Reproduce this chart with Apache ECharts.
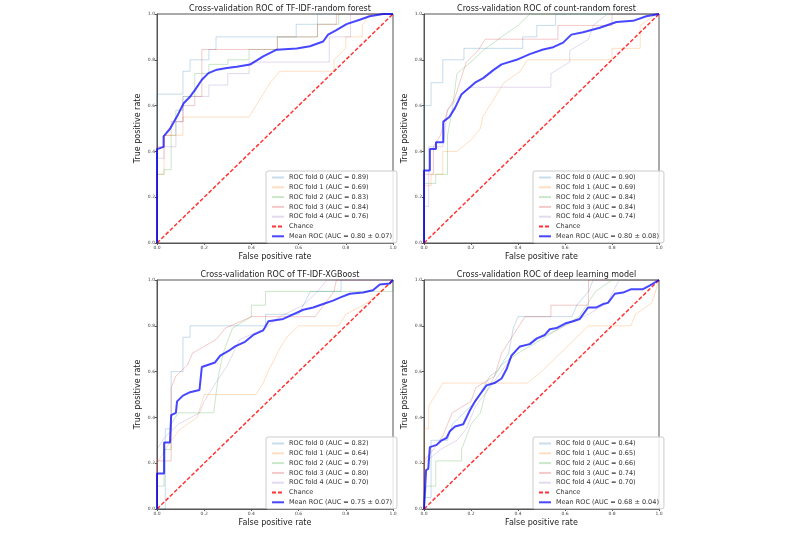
<!DOCTYPE html>
<html>
<head>
<meta charset="utf-8">
<script src="https://cdn.jsdelivr.net/npm/echarts@6/dist/echarts.min.js"></script>
<style>html,body{margin:0;padding:0;background:#fff}#c{width:800px;height:533px}</style>
</head>
<body>
<div id="c"></div>
<script>
// ---------- DATA ----------
const titles = [
  'Cross-validation ROC of TF-IDF-random forest',
  'Cross-validation ROC of count-random forest',
  'Cross-validation ROC of TF-IDF-XGBoost',
  'Cross-validation ROC of deep learning model'
];
const foldAUC_tfidfRF = ['0.89', '0.69', '0.83', '0.84', '0.76'];
const foldAUC_countRF = ['0.90', '0.69', '0.84', '0.84', '0.74'];
const foldAUC_tfidfXGB = ['0.82', '0.64', '0.79', '0.80', '0.70'];
const foldAUC_deep = ['0.64', '0.65', '0.66', '0.74', '0.70'];
const meanAUC = ['0.80 ± 0.07', '0.80 ± 0.08', '0.75 ± 0.07', '0.68 ± 0.04'];
const chanceLine = [[0, 0], [1, 1]];

// TF-IDF random forest
const tfidfRF_f0 = [[0,0],[0,0.65],[0.11,0.65],[0.11,0.75],[0.14,0.75],[0.14,0.8],[0.22,0.8],[0.22,0.845],[0.25,0.845],[0.25,0.9],[0.59,0.9],[0.59,0.955],[0.68,0.955],[0.68,1],[1,1]];
const tfidfRF_f1 = [[0,0],[0,0.3],[0.03,0.3],[0.03,0.47],[0.11,0.47],[0.11,0.55],[0.39,0.55],[0.42,0.6],[0.45,0.65],[0.48,0.7],[0.52,0.75],[0.75,0.75],[0.75,0.8],[0.8,0.85],[0.8,0.9],[0.87,0.9],[0.87,0.95],[0.9,1],[1,1]];
const tfidfRF_f2 = [[0,0],[0,0.3],[0.03,0.3],[0.03,0.32],[0.06,0.32],[0.06,0.47],[0.08,0.47],[0.08,0.58],[0.11,0.58],[0.11,0.64],[0.16,0.64],[0.16,0.74],[0.22,0.74],[0.22,0.78],[0.3,0.78],[0.3,0.8],[0.39,0.8],[0.39,0.845],[0.51,0.845],[0.51,0.9],[0.68,0.9],[0.68,0.955],[0.77,0.955],[0.77,1],[1,1]];
const tfidfRF_f3 = [[0,0],[0,0.42],[0.03,0.42],[0.03,0.47],[0.06,0.47],[0.06,0.53],[0.11,0.53],[0.11,0.6],[0.16,0.6],[0.16,0.64],[0.19,0.64],[0.19,0.845],[0.51,0.845],[0.51,0.9],[0.68,0.9],[0.68,0.955],[0.76,0.955],[0.76,1],[1,1]];
const tfidfRF_f4 = [[0,0],[0,0.37],[0.03,0.37],[0.03,0.42],[0.08,0.42],[0.08,0.53],[0.11,0.53],[0.11,0.64],[0.22,0.64],[0.22,0.69],[0.3,0.69],[0.3,0.74],[0.39,0.74],[0.39,0.79],[0.73,0.79],[0.73,0.9],[0.82,0.9],[0.82,1],[1,1]];
const tfidfRF_mean = [[0,0],[0,0.41],[0.028,0.42],[0.028,0.466],[0.056,0.5],[0.085,0.553],[0.113,0.61],[0.141,0.64],[0.162,0.67],[0.19,0.713],[0.218,0.742],[0.254,0.757],[0.296,0.764],[0.338,0.77],[0.394,0.779],[0.45,0.815],[0.507,0.844],[0.592,0.849],[0.648,0.859],[0.704,0.88],[0.725,0.91],[0.76,0.93],[0.803,0.956],[0.859,0.975],[0.901,0.99],[0.958,1],[1,1]];

// count random forest
const countRF_f0 = [[0,0],[0,0.6],[0.03,0.6],[0.03,0.7],[0.08,0.7],[0.08,0.8],[0.17,0.8],[0.17,0.85],[0.42,0.85],[0.42,0.9],[0.48,0.9],[0.48,0.95],[0.56,0.95],[0.56,1],[1,1]];
const countRF_f1 = [[0,0],[0,0.25],[0.03,0.25],[0.03,0.3],[0.08,0.3],[0.08,0.4],[0.14,0.4],[0.2,0.45],[0.24,0.5],[0.25,0.55],[0.28,0.6],[0.34,0.7],[0.41,0.75],[0.44,0.8],[0.8,0.8],[0.8,0.85],[0.92,0.85],[0.92,0.95],[0.99,1],[1,1]];
const countRF_f2 = [[0,0],[0,0.26],[0.05,0.26],[0.05,0.3],[0.1,0.3],[0.1,0.47],[0.12,0.58],[0.14,0.74],[0.2,0.79],[0.25,0.84],[0.33,0.9],[0.4,0.95],[0.45,1],[1,1]];
const countRF_f3 = [[0,0],[0,0.3],[0.04,0.3],[0.04,0.42],[0.07,0.47],[0.1,0.58],[0.13,0.63],[0.18,0.79],[0.23,0.84],[0.26,0.89],[0.57,0.89],[0.57,0.95],[0.8,0.95],[0.8,1],[1,1]];
const countRF_f4 = [[0,0],[0,0.16],[0.02,0.16],[0.02,0.42],[0.08,0.42],[0.1,0.58],[0.14,0.63],[0.19,0.68],[0.54,0.68],[0.54,0.74],[0.62,0.79],[0.62,0.84],[0.7,0.89],[0.72,0.95],[0.78,1],[1,1]];
const countRF_mean = [[0,0],[0,0.317],[0.025,0.317],[0.025,0.41],[0.051,0.41],[0.051,0.44],[0.082,0.44],[0.082,0.53],[0.108,0.55],[0.132,0.59],[0.16,0.65],[0.195,0.68],[0.217,0.7],[0.252,0.72],[0.295,0.755],[0.33,0.78],[0.394,0.8],[0.45,0.825],[0.507,0.845],[0.55,0.855],[0.592,0.875],[0.627,0.91],[0.677,0.92],[0.748,0.94],[0.819,0.965],[0.89,0.97],[0.946,0.99],[1,1]];

// TF-IDF XGBoost
const tfidfXGB_f0 = [[0,0],[0.035,0],[0.035,0.35],[0.06,0.35],[0.06,0.6],[0.11,0.6],[0.11,0.75],[0.14,0.75],[0.14,0.8],[0.46,0.8],[0.46,0.85],[0.6,0.85],[0.65,0.95],[0.78,0.95],[0.78,1],[1,1]];
const tfidfXGB_f1 = [[0,0],[0,0.2],[0.06,0.3],[0.1,0.35],[0.17,0.4],[0.2,0.5],[0.42,0.5],[0.45,0.55],[0.47,0.6],[0.52,0.7],[0.55,0.75],[0.6,0.8],[0.77,0.8],[0.8,0.85],[0.89,0.9],[0.95,0.95],[1,1]];
const tfidfXGB_f2 = [[0,0],[0,0.1],[0.03,0.1],[0.03,0.26],[0.06,0.26],[0.06,0.37],[0.09,0.42],[0.24,0.42],[0.26,0.58],[0.28,0.68],[0.32,0.79],[0.4,0.84],[0.4,0.89],[0.46,0.89],[0.46,0.95],[1,0.95],[1,1]];
const tfidfXGB_f3 = [[0,0],[0,0.21],[0.06,0.21],[0.06,0.53],[0.08,0.58],[0.13,0.63],[0.15,0.68],[0.25,0.74],[0.29,0.79],[0.4,0.84],[0.67,0.84],[0.75,0.95],[0.76,1],[1,1]];
const tfidfXGB_f4 = [[0,0],[0,0.26],[0.03,0.31],[0.09,0.37],[0.18,0.42],[0.2,0.47],[0.23,0.52],[0.3,0.63],[0.35,0.74],[0.46,0.79],[0.52,0.84],[0.62,0.89],[0.68,0.95],[0.72,1],[1,1]];
const tfidfXGB_mean = [[0,0],[0,0.155],[0.03,0.155],[0.03,0.29],[0.055,0.29],[0.06,0.41],[0.08,0.42],[0.085,0.47],[0.11,0.495],[0.14,0.51],[0.18,0.52],[0.19,0.62],[0.218,0.63],[0.246,0.64],[0.268,0.67],[0.303,0.69],[0.331,0.71],[0.373,0.73],[0.408,0.76],[0.45,0.78],[0.472,0.82],[0.535,0.83],[0.577,0.85],[0.62,0.87],[0.662,0.88],[0.704,0.895],[0.746,0.91],[0.78,0.925],[0.817,0.94],[0.873,0.945],[0.915,0.955],[0.944,0.98],[0.986,0.985],[1,1]];

// deep learning
const deep_f0 = [[0,0],[0,0.05],[0.03,0.05],[0.03,0.3],[0.1,0.3],[0.12,0.37],[0.17,0.42],[0.22,0.47],[0.28,0.58],[0.31,0.6],[0.36,0.68],[0.38,0.79],[0.4,0.84],[0.63,0.84],[0.65,0.89],[0.7,0.95],[0.72,1],[1,1]];
const deep_f1 = [[0,0],[0,0.35],[0.02,0.35],[0.02,0.45],[0.05,0.5],[0.08,0.55],[0.44,0.55],[0.5,0.6],[0.6,0.7],[0.7,0.8],[0.88,0.8],[0.9,0.85],[0.97,0.9],[1,1]];
const deep_f2 = [[0,0],[0.01,0.1],[0.05,0.1],[0.05,0.21],[0.16,0.21],[0.16,0.26],[0.2,0.37],[0.24,0.42],[0.26,0.5],[0.3,0.58],[0.33,0.63],[0.4,0.68],[0.58,0.79],[0.66,0.84],[0.73,0.95],[0.8,1],[1,1]];
const deep_f3 = [[0,0],[0,0.21],[0.04,0.26],[0.08,0.32],[0.12,0.42],[0.2,0.47],[0.22,0.53],[0.3,0.58],[0.33,0.68],[0.43,0.84],[0.54,0.84],[0.54,0.89],[0.7,0.89],[0.7,1],[1,1]];
const deep_f4 = [[0,0],[0,0.2],[0.07,0.26],[0.14,0.3],[0.18,0.35],[0.22,0.45],[0.28,0.53],[0.35,0.63],[0.4,0.7],[0.5,0.75],[0.6,0.8],[0.7,0.85],[0.78,0.9],[0.83,1],[1,1]];
const deep_mean = [[0,0],[0.004,0.08],[0.009,0.17],[0.018,0.175],[0.025,0.27],[0.054,0.28],[0.075,0.3],[0.096,0.31],[0.11,0.34],[0.132,0.36],[0.167,0.37],[0.195,0.43],[0.217,0.47],[0.238,0.5],[0.266,0.54],[0.3,0.55],[0.33,0.57],[0.351,0.61],[0.372,0.67],[0.408,0.71],[0.45,0.72],[0.48,0.745],[0.514,0.76],[0.535,0.785],[0.564,0.79],[0.6,0.81],[0.634,0.82],[0.663,0.83],[0.698,0.88],[0.734,0.88],[0.762,0.895],[0.783,0.9],[0.812,0.94],[0.847,0.945],[0.882,0.96],[0.932,0.96],[0.96,0.975],[1,1]];

// ---------- CHART ----------
const foldColors = ['rgba(31,119,180,0.25)','rgba(255,127,14,0.25)','rgba(44,160,44,0.25)','rgba(214,39,40,0.25)','rgba(148,103,189,0.25)'];
const panels = [
  {folds:[tfidfRF_f0,tfidfRF_f1,tfidfRF_f2,tfidfRF_f3,tfidfRF_f4], mean: tfidfRF_mean, auc: foldAUC_tfidfRF},
  {folds:[countRF_f0,countRF_f1,countRF_f2,countRF_f3,countRF_f4], mean: countRF_mean, auc: foldAUC_countRF},
  {folds:[tfidfXGB_f0,tfidfXGB_f1,tfidfXGB_f2,tfidfXGB_f3,tfidfXGB_f4], mean: tfidfXGB_mean, auc: foldAUC_tfidfXGB},
  {folds:[deep_f0,deep_f1,deep_f2,deep_f3,deep_f4], mean: deep_mean, auc: foldAUC_deep}
];
const gridPos = [
  {left:157, top:14, width:236, height:229},
  {left:424, top:14, width:235, height:229},
  {left:157, top:280, width:236, height:229},
  {left:424, top:280, width:235, height:229}
];
const FONT = 'DejaVu Sans';
const hiddenSym = {color:'rgba(0,0,0,0)', borderWidth:0, opacity:0};
const grids = [], xAxes = [], yAxes = [], series = [], legends = [], tits = [];
panels.forEach((p, i) => {
  const g = gridPos[i];
  grids.push(Object.assign({show:true, borderColor:'#555', borderWidth:1, backgroundColor:'#fff'}, g));
  tits.push({text: titles[i], left: g.left + g.width/2, top: g.top - 14, textAlign:'center',
    textStyle:{fontFamily:FONT, fontSize:8, fontWeight:'normal', color:'#222'}});
  const axisCommon = {min:0, max:1, interval:0.2, gridIndex:i, splitLine:{show:false},
    axisLine:{show:true, lineStyle:{color:'#555', width:1}},
    axisTick:{show:true, length:2, lineStyle:{color:'#555'}},
    axisLabel:{fontFamily:FONT, fontSize:4.5, color:'#444', margin:2, formatter: v => v.toFixed(1)},
    nameLocation:'middle', nameTextStyle:{fontFamily:FONT, fontSize:8, color:'#222'}};
  xAxes.push(Object.assign({}, axisCommon, {type:'value', name:'False positive rate', nameGap:10}));
  yAxes.push(Object.assign({}, axisCommon, {type:'value', name:'True positive rate', nameGap:15}));
  const names = [];
  p.folds.forEach((f, k) => {
    const nm = 'ROC fold ' + k + ' (AUC = ' + p.auc[k] + ')';
    names.push(nm);
    series.push({type:'line', name:nm, xAxisIndex:i, yAxisIndex:i, data:f, symbol:'none', silent:true,
      lineStyle:{color:foldColors[k], width:1}, itemStyle:{color:foldColors[k]}, z:2, animation:false});
  });
  names.push('Chance');
  series.push({type:'line', name:'Chance', xAxisIndex:i, yAxisIndex:i, data:chanceLine, symbol:'none', silent:true,
    lineStyle:{color:'rgba(255,0,0,0.8)', width:1.5, type:[4,2]}, itemStyle:{color:'rgba(255,0,0,0.8)'}, z:3, animation:false});
  const mn = 'Mean ROC (AUC = ' + meanAUC[i] + ')';
  names.push(mn);
  series.push({type:'line', name:mn, xAxisIndex:i, yAxisIndex:i, data:p.mean, symbol:'none', silent:true,
    lineStyle:{color:'rgba(0,0,255,0.72)', width:2}, itemStyle:{color:'rgba(0,0,255,0.72)'}, z:4, animation:false});
  legends.push({data:names, orient:'vertical', left:g.left + 109, top:g.top + 157,
    itemWidth:12, itemHeight:7, itemGap:2.8, padding:[3,5,3,5], selectedMode:false,
    itemStyle: hiddenSym,
    backgroundColor:'rgba(255,255,255,0.85)', borderColor:'#ccc', borderWidth:1, borderRadius:2,
    textStyle:{fontFamily:FONT, fontSize:6.5, color:'#333'}});
});
const chart = echarts.init(document.getElementById('c'), null, {renderer:'canvas'});
chart.setOption({animation:false, backgroundColor:'#fff', title:tits, grid:grids, xAxis:xAxes, yAxis:yAxes, legend:legends, series:series});
</script>
</body>
</html>
